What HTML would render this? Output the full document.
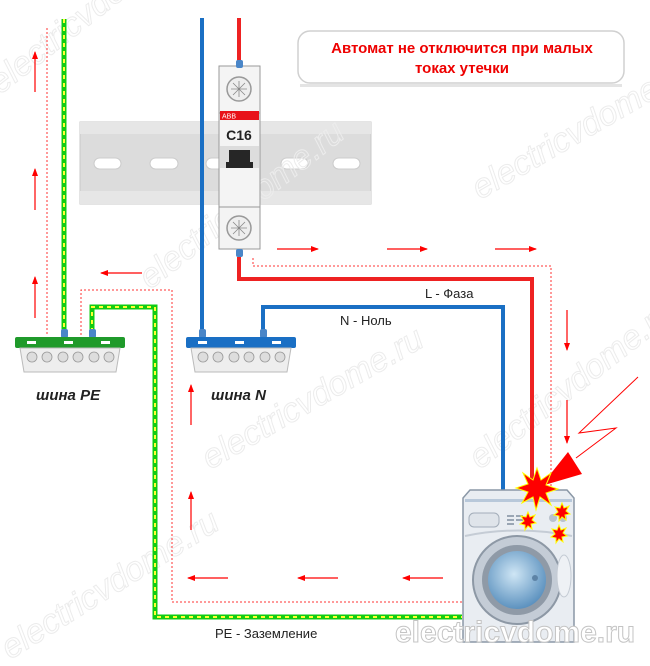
<!DOCTYPE html>
<html><head><meta charset="utf-8"><style>
body{margin:0;background:#fff;}
svg{display:block;font-family:"Liberation Sans","DejaVu Sans",sans-serif;}
</style></head><body>
<svg width="650" height="666" viewBox="0 0 650 666" xmlns="http://www.w3.org/2000/svg">
<defs>
<marker id="ah" markerWidth="8" markerHeight="6" refX="7" refY="3" orient="auto" markerUnits="userSpaceOnUse" viewBox="0 0 8 6"><path d="M0,0 L8,3 L0,6 z" fill="#f00"/></marker>
<radialGradient id="drum" cx="0.45" cy="0.4" r="0.6"><stop offset="0" stop-color="#cfe6f5"/><stop offset="1" stop-color="#5d92bf"/></radialGradient>
</defs>

<!-- DIN rail -->
<rect x="80" y="122" width="291" height="82" fill="#dcdcdc" stroke="#c8c8c8"/>
<rect x="80" y="122" width="291" height="12" fill="#e6e6e6"/>
<rect x="80" y="191" width="291" height="13" fill="#e6e6e6"/>
<g fill="#fff" stroke="#ccc"><rect x="94" y="158" width="27" height="11" rx="5.5"/><rect x="150" y="158" width="28" height="11" rx="5.5"/><rect x="206" y="158" width="20" height="11" rx="5.5"/><rect x="281" y="158" width="27" height="11" rx="5.5"/><rect x="333" y="158" width="27" height="11" rx="5.5"/></g>

<!-- callout -->
<rect x="298" y="31" width="326" height="52" rx="12" fill="#fff" stroke="#d0d0d0" stroke-width="1.5"/>
<rect x="300" y="84" width="322" height="3" fill="#e4e4e4"/>
<text x="462" y="53" text-anchor="middle" font-size="15" font-weight="bold" fill="#e00">Автомат не отключится при малых</text>
<text x="462" y="73" text-anchor="middle" font-size="15" font-weight="bold" fill="#e00">токах утечки</text>

<!-- watermarks -->
<g fill="none" stroke="#ececec" stroke-width="1" font-size="34" font-style="italic">
<text transform="translate(0,95) rotate(-38)">electricvdome.ru</text>
<text transform="translate(150,290) rotate(-38)">electricvdome.ru</text>
<text transform="translate(210,470) rotate(-30)">electricvdome.ru</text>
<text transform="translate(480,200) rotate(-30)">electricvdome.ru</text>
<text transform="translate(480,470) rotate(-38)">electricvdome.ru</text>
<text transform="translate(10,660) rotate(-32)">electricvdome.ru</text>
</g>

<!-- dotted current path -->
<g fill="none" stroke="#f33" stroke-width="1" stroke-dasharray="2,2">
<path d="M47,28 V335"/>
<path d="M81,335 V290 H172 V602 H462"/>
<path d="M253,258 V266 H551 V490"/>
</g>

<!-- wires -->
<g fill="none" stroke-linejoin="miter">
<path d="M239,18 V62" stroke="#e22" stroke-width="4"/>
<path d="M239,257 V279 H532 V488" stroke="#e22" stroke-width="4"/>
<path d="M202,18 V332" stroke="#1a6fc4" stroke-width="4"/>
<path d="M263,332 V307 H503 V490" stroke="#1a6fc4" stroke-width="4"/>
<path d="M64,19 V332" stroke="#11cc11" stroke-width="5"/>
<path d="M64,19 V332" stroke="#ffff33" stroke-width="2" stroke-dasharray="4,4"/>
<path d="M92,332 V307 H155 V617 H462" stroke="#11cc11" stroke-width="5"/>
<path d="M92,332 V307 H155 V617 H462" stroke="#ffff33" stroke-width="2" stroke-dasharray="4,4"/>
</g>

<!-- breaker -->
<rect x="219" y="66" width="41" height="183" fill="#f4f4f4" stroke="#9a9a9a"/>
<rect x="236" y="60" width="7" height="8" rx="2" fill="#4a86c8"/>
<rect x="236" y="249" width="7" height="8" rx="2" fill="#4a86c8"/>
<line x1="219" y1="113" x2="260" y2="113" stroke="#999"/>
<line x1="219" y1="207" x2="260" y2="207" stroke="#999"/>
<circle cx="239" cy="89" r="12" fill="#eee" stroke="#999" stroke-width="1.5"/>
<path d="M231,89H247M239,81V97M233,83L245,95M245,83L233,95" stroke="#888" stroke-width="0.8"/>
<circle cx="239" cy="228" r="12" fill="#eee" stroke="#999" stroke-width="1.5"/>
<path d="M231,228H247M239,220V236M233,222L245,234M245,222L233,234" stroke="#888" stroke-width="0.8"/>
<rect x="220" y="111" width="39" height="9" fill="#e8121a"/>
<text x="222" y="118.5" font-size="7" fill="#fff">ABB</text>
<text x="239" y="140" text-anchor="middle" font-size="14" font-weight="bold" fill="#222">C16</text>
<rect x="220" y="146" width="39" height="22" fill="#ddd"/>
<path d="M229,150 H250 V162 H253 V168 H226 V162 H229 Z" fill="#262626"/>

<!-- buses -->
<g>
<rect x="61" y="329" width="7" height="9" rx="2" fill="#4a86c8"/>
<rect x="89" y="329" width="7" height="9" rx="2" fill="#4a86c8"/>
<rect x="15" y="337" width="110" height="11" rx="2" fill="#1f9a2a"/>
<path d="M20,348 H120 L116,372 H24 Z" fill="#eee" stroke="#bbb"/>
<g fill="#fff"><rect x="27" y="341" width="9" height="3"/><rect x="64" y="341" width="9" height="3"/><rect x="101" y="341" width="9" height="3"/></g>
<g fill="#ddd" stroke="#999" stroke-width="0.8"><circle cx="32" cy="357" r="5"/><circle cx="47" cy="357" r="5"/><circle cx="63" cy="357" r="5"/><circle cx="78" cy="357" r="5"/><circle cx="94" cy="357" r="5"/><circle cx="109" cy="357" r="5"/></g>
<rect x="199" y="329" width="7" height="9" rx="2" fill="#4a86c8"/>
<rect x="260" y="329" width="7" height="9" rx="2" fill="#4a86c8"/>
<rect x="186" y="337" width="110" height="11" rx="2" fill="#1a6fc4"/>
<path d="M191,348 H291 L287,372 H195 Z" fill="#eee" stroke="#bbb"/>
<g fill="#fff"><rect x="198" y="341" width="9" height="3"/><rect x="235" y="341" width="9" height="3"/><rect x="272" y="341" width="9" height="3"/></g>
<g fill="#ddd" stroke="#999" stroke-width="0.8"><circle cx="203" cy="357" r="5"/><circle cx="218" cy="357" r="5"/><circle cx="234" cy="357" r="5"/><circle cx="249" cy="357" r="5"/><circle cx="265" cy="357" r="5"/><circle cx="280" cy="357" r="5"/></g>
</g>
<text x="36" y="400" font-size="15" font-weight="bold" font-style="italic" fill="#222">шина PE</text>
<text x="211" y="400" font-size="15" font-weight="bold" font-style="italic" fill="#222">шина N</text>

<!-- labels -->
<text x="425" y="298" font-size="13" fill="#222">L - Фаза</text>
<text x="340" y="325" font-size="13" fill="#222">N - Ноль</text>
<text x="215" y="638" font-size="13" fill="#222">PE - Заземление</text>

<!-- arrows -->
<g stroke="#f00" stroke-width="1.2" marker-end="url(#ah)">
<line x1="35" y1="92" x2="35" y2="52"/>
<line x1="35" y1="210" x2="35" y2="169"/>
<line x1="35" y1="318" x2="35" y2="277"/>
<line x1="142" y1="273" x2="101" y2="273"/>
<line x1="277" y1="249" x2="318" y2="249"/>
<line x1="387" y1="249" x2="427" y2="249"/>
<line x1="495" y1="249" x2="536" y2="249"/>
<line x1="567" y1="310" x2="567" y2="350"/>
<line x1="567" y1="400" x2="567" y2="443"/>
<line x1="191" y1="425" x2="191" y2="385"/>
<line x1="191" y1="530" x2="191" y2="492"/>
<line x1="228" y1="578" x2="188" y2="578"/>
<line x1="338" y1="578" x2="298" y2="578"/>
<line x1="443" y1="578" x2="403" y2="578"/>
</g>
<!-- lightning -->
<path d="M638,377 L579,433 L616,428 L576,458" fill="none" stroke="#f00" stroke-width="1"/>
<path d="M541,486 L568,452 L582,474 Z" fill="#f00"/>

<!-- washer -->
<path d="M470,490 H567 L574,498 V642 H463 V498 Z" fill="#e9edf2" stroke="#8a97a6" stroke-width="1.5"/>
<rect x="465" y="499" width="107" height="3" fill="#b8c8da"/>
<path d="M465,536 Q518,525 572,536" fill="none" stroke="#c5ccd5" stroke-width="2"/>
<rect x="469" y="513" width="30" height="14" rx="5" fill="#dfe4ea" stroke="#a3adb9"/>
<g fill="#9aa6b4"><rect x="507" y="515" width="7" height="2"/><rect x="507" y="519" width="7" height="2"/><rect x="507" y="523" width="7" height="2"/><rect x="516" y="515" width="7" height="2"/><rect x="516" y="519" width="7" height="2"/></g>
<circle cx="553" cy="518" r="4" fill="#b9c2cd"/><circle cx="563" cy="518" r="4" fill="#b9c2cd"/>
<circle cx="517" cy="580" r="44" fill="#c4ccd6" stroke="#8d98a5" stroke-width="2"/>
<circle cx="517" cy="580" r="35" fill="#8f9aa7"/>
<circle cx="517" cy="580" r="29" fill="url(#drum)"/>
<circle cx="535" cy="578" r="3" fill="#5d83a6"/>
<ellipse cx="564" cy="576" rx="7" ry="21" fill="#eef1f5" stroke="#c3cad3"/>
<!-- sparks -->
<g fill="#f00" stroke="#ff0" stroke-width="1">
<path d="M537,468 L541,480 L551,473 L546,485 L558,489 L546,493 L551,505 L540,497 L536,510 L533,497 L522,503 L528,492 L516,488 L528,484 L523,473 L533,480 Z"/>
<path d="M562,503 L564,508 L569,506 L566,511 L570,514 L565,515 L566,520 L562,517 L559,521 L559,516 L554,515 L558,512 L555,507 L560,508 Z"/>
<path d="M528,512 L530,517 L535,515 L532,520 L536,523 L531,524 L532,529 L528,526 L525,530 L525,525 L520,524 L524,521 L521,516 L526,517 Z"/>
<path d="M559,525 L561,530 L566,528 L563,533 L567,536 L562,537 L563,542 L559,539 L556,543 L556,538 L551,537 L555,534 L552,529 L557,530 Z"/>
</g>
<text x="395" y="642" font-size="30" font-weight="bold" fill="#fff" stroke="#c4c4c4" stroke-width="1">electricvdome.ru</text>
</svg>
</body></html>
